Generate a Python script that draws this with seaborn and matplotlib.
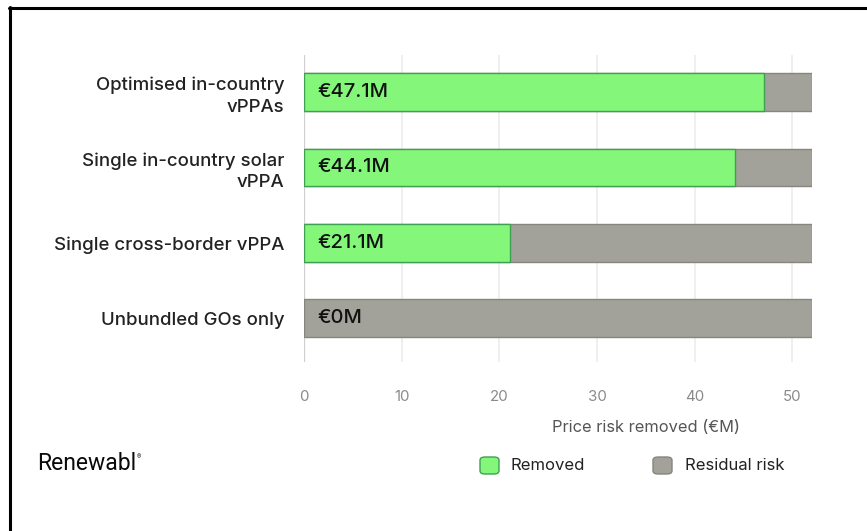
import matplotlib
matplotlib.use("Agg")
import matplotlib.pyplot as plt
from matplotlib.patches import FancyBboxPatch
from matplotlib.lines import Line2D
import seaborn as sns
import pandas as pd

# Hedging strategies and the price risk each one removes (EUR millions)
strategies = [
    "Optimised in-country\nvPPAs",
    "Single in-country solar\nvPPA",
    "Single cross-border vPPA",
    "Unbundled GOs only",
]
removed = [47.1, 44.1, 21.1, 0.0]
residual = [4.9, 7.9, 30.9, 52.0]
value_labels = ["€47.1M", "€44.1M", "€21.1M", "€0M"]
x_ticks = [0, 10, 20, 30, 40, 50]

GREEN = "#84f77b"
GREEN_EDGE = "#3f9f52"
GREY = "#a2a29a"
GREY_EDGE = "#86867f"

sns.set_theme(style="white")
plt.rcParams["font.family"] = ["Inter", "DejaVu Sans"]

df = pd.DataFrame({
    "strategy": strategies,
    "removed": removed,
    "total": [r + s for r, s in zip(removed, residual)],
})

fig = plt.figure(figsize=(8.67, 5.31), dpi=100)
W, H = 867, 531
ax = fig.add_axes([304 / W, 1 - 362 / H, (812 - 304) / W, (362 - 55) / H])

# Full-risk bar underneath (residual shows through), removed part on top
sns.barplot(data=df, y="strategy", x="total", orient="h", color=GREY,
            width=0.5, ax=ax, saturation=1)
sns.barplot(data=df, y="strategy", x="removed", orient="h", color=GREEN,
            width=0.5, ax=ax, saturation=1)

n = len(strategies)
for i, p in enumerate(ax.patches):
    p.set_edgecolor(GREY_EDGE if i < n else GREEN_EDGE)
    p.set_linewidth(1.0 if p.get_width() > 0 else 0)
    p.set_zorder(3)

for i, lab in enumerate(value_labels):
    ax.text(1.4, i, lab, va="center", ha="left", fontsize=14.5,
            fontweight="medium", color="#111111", zorder=5)

ax.set_xlim(0, 52)
ax.set_ylim(3.58, -0.49)
ax.set_xticks(x_ticks)
ax.set_xticklabels([str(t) for t in x_ticks])
ax.tick_params(axis="x", length=0, pad=20, labelsize=10.8, colors="#8a8a8a")
ax.tick_params(axis="y", length=0, pad=14, labelsize=13.4, colors="#222222")
for lbl in ax.get_yticklabels():
    lbl.set_horizontalalignment("right")
    lbl.set_multialignment("right")
    lbl.set_linespacing(1.35)
    lbl.set_fontweight("medium")
ax.set_xlabel("")
ax.set_ylabel("")
for s in ax.spines.values():
    s.set_visible(False)
ax.grid(False)
for t in x_ticks:
    ax.axvline(t, color="#cfcfcf" if t == 0 else "#ececec",
               lw=1.6 if t == 0 else 1.2, zorder=1)

fig.text(646 / W, 1 - 428 / H, "Price risk removed (€M)", ha="center",
         va="center", fontsize=11.8, color="#555555")

# Legend
leg_items = [("Removed", GREEN, GREEN_EDGE, 480, 510),
             ("Residual risk", GREY, GREY_EDGE, 653, 685)]
for name, fc, ec, px, tx in leg_items:
    box = FancyBboxPatch((px / W, 1 - 474 / H), 19 / W, 17 / H,
                         boxstyle="round,pad=0,rounding_size=0.006",
                         transform=fig.transFigure, facecolor=fc,
                         edgecolor=ec, lw=1.0)
    fig.add_artist(box)
    fig.text(tx / W, 1 - 465 / H, name, ha="left", va="center",
             fontsize=12, color="#222222")

# Brand mark
fig.text(37 / W, 1 - 464 / H, "Renewabl", ha="left", va="center",
         fontsize=16.5, color="#0a0a0a", family=["Roboto", "DejaVu Sans"])
fig.text(137 / W, 1 - 457 / H, "®", ha="left", va="center",
         fontsize=4.5, color="#111111")

# Frame lines along the top and left edges
fig.add_artist(Line2D([9 / W, 1], [1 - 8 / H, 1 - 8 / H],
                      transform=fig.transFigure, color="black", lw=2.2))
fig.add_artist(Line2D([9.5 / W, 9.5 / W], [0, 1 - 7 / H],
                      transform=fig.transFigure, color="black", lw=2.2))

fig.savefig("out.png", dpi=100, facecolor="white")
